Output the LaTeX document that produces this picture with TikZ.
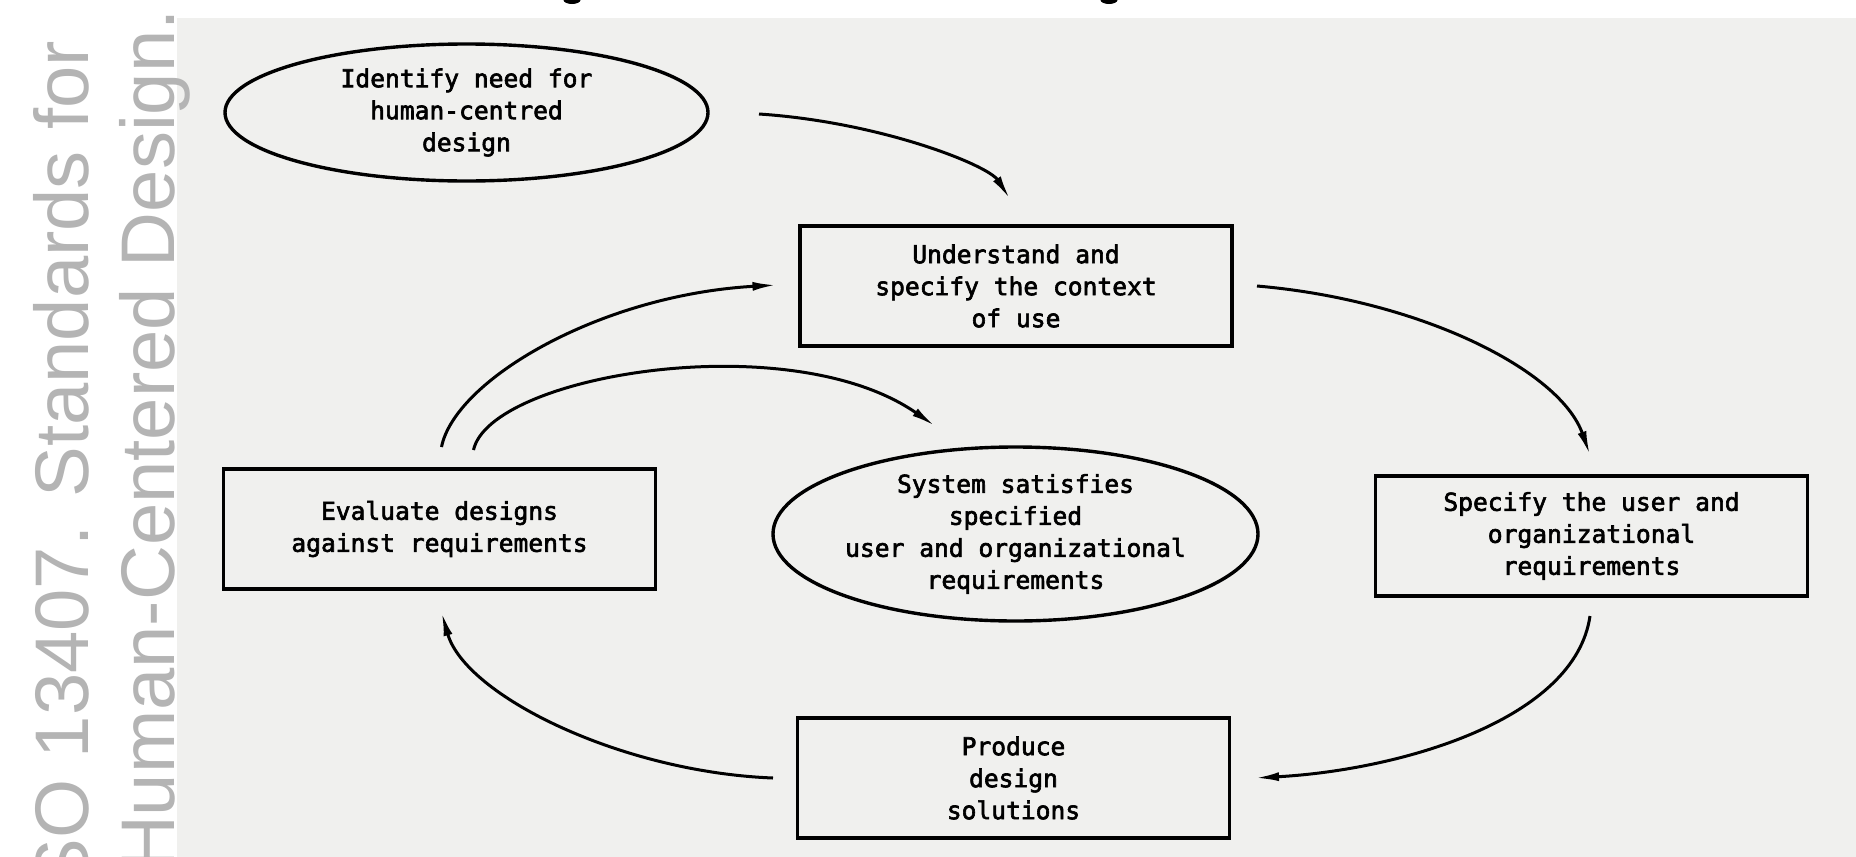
\documentclass[tikz,border=0pt]{standalone}
\usepackage{fontspec}
\usetikzlibrary{arrows.meta,shapes.geometric}
\newfontfamily\diagfont[FakeBold=2.5]{DejaVu Sans Mono}
\newfontfamily\wmfont{Liberation Sans}
\definecolor{panel}{RGB}{240,240,238}
\definecolor{wm}{RGB}{180,180,180}
\tikzset{
  procbox/.style={draw=black, line width=3.4pt, rectangle, minimum width=432pt,
    minimum height=120pt, inner sep=0pt, align=center,
    font={\diagfont\fontsize{24.6}{32}\selectfont}},
  goal/.style={draw=black, line width=3.4pt, ellipse, inner sep=0pt, align=center,
    font={\diagfont\fontsize{24.6}{32}\selectfont}},
  flow/.style={line width=3pt, -{Latex[length=24pt,width=9pt]}},
  wmtext/.style={text=wm, font={\wmfont\fontsize{76}{76}\selectfont}, rotate=90,
    anchor=base east, inner sep=0pt}
}
\begin{document}
\begin{tikzpicture}[x=1pt,y=-1pt]
\useasboundingbox (0,0) rectangle (1856,857);
\fill[white] (0,0) rectangle (1856,857);
\fill[panel] (177,18) rectangle (1856,857);
% cut-off title descenders
\fill[black] (572,0) ellipse (8.5pt and 4pt);
\fill[black] (1109,0) ellipse (8.5pt and 4pt);
% side caption
\node[wmtext] (cap1) at (88,41) {SO 13407. Standards for};
\node[wmtext] (cap2) at (174,9) {Human-Centered Design.};
% nodes
\node[goal, minimum width=483pt, minimum height=137pt] (ident) at (466.5,112.5)
  {Identify need for\\human-centred\\design};
\node[procbox] (understand) at (1016,286) {Understand and\\specify the context\\of use};
\node[procbox] (evaluate) at (439.5,529) {Evaluate designs\\against requirements};
\node[goal, minimum width=485pt, minimum height=174pt] (satisfy) at (1015.5,534)
  {System satisfies\\specified\\user and organizational\\requirements};
\node[procbox] (specify) at (1591.5,536) {Specify the user and\\organizational\\requirements};
\node[procbox] (produce) at (1013.5,778) {Produce\\design\\solutions};
% connector end points
\coordinate (a1) at (759,114);   \coordinate (a2) at (1010,199);
\coordinate (b1) at (1257,286);  \coordinate (b2) at (1590,455);
\coordinate (c1) at (1590,616);  \coordinate (c2) at (1255,778);
\coordinate (d1) at (773,778);   \coordinate (d2) at (441.5,612);
\coordinate (e1) at (441.5,447); \coordinate (e2) at (776.5,285);
\coordinate (f1) at (473.5,450); \coordinate (f2) at (935,426);
% connectors
\draw[flow] (a1) .. controls (880,122) and (988,165) .. (a2);
\draw[flow] (b1) .. controls (1420,300) and (1560,370) .. (b2);
\draw[flow] (c1) .. controls (1575,720) and (1400,770) .. (c2);
\draw[flow] (d1) .. controls (620,772) and (465,695) .. (d2);
\draw[flow] (e1) .. controls (455,380) and (600,295) .. (e2);
\draw[flow] (f1) .. controls (490,375) and (790,325) .. (f2);
\end{tikzpicture}
\end{document}
